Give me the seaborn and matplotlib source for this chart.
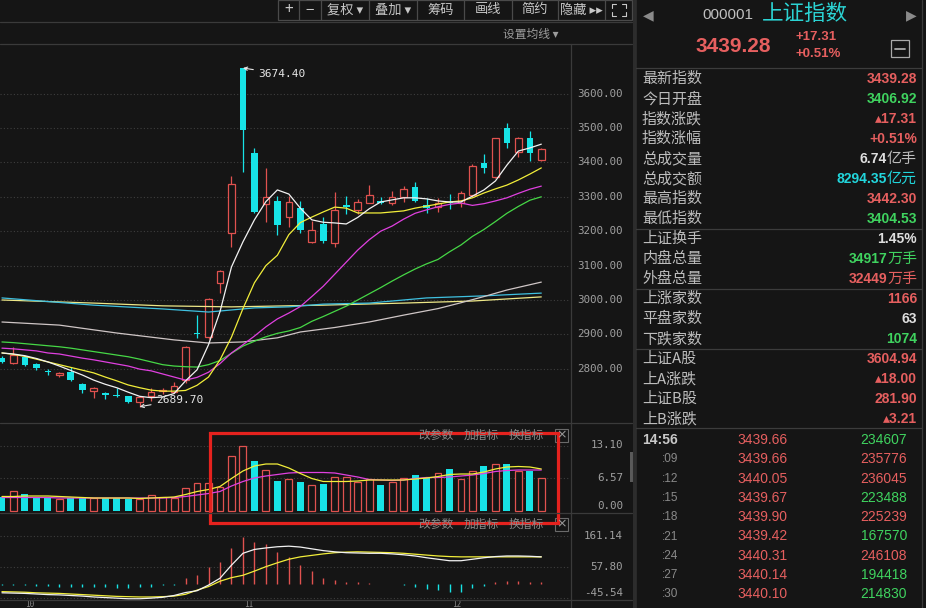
import numpy as np
import matplotlib
matplotlib.use('Agg')
import matplotlib.pyplot as plt
import seaborn as sns
from matplotlib.lines import Line2D
from matplotlib.patches import Rectangle

W, H = 926, 608
BG = '#151515'
RED = '#e0524f'
CYAN = '#17e3e6'
GRID = '#3e3e3e'
SEP = '#3a3a3a'
TXT_RED = '#e65f5f'
TXT_GREEN = '#3fd35f'
TXT_CYAN = '#22d6dc'
TXT_WHITE = '#dedede'
TXT_GREY = '#bdbdbd'

# ---------------- chart data (daily k-line, 48 sessions) ----------------
opens = [2831, 2817, 2834, 2814, 2793, 2782, 2791, 2756, 2735, 2730,
         2724, 2721, 2703, 2722, 2735, 2733, 2767, 2905, 2892, 3049,
         3195, 3674.4, 3427, 3279, 3288, 3241, 3267, 3169, 3221, 3166,
         3276, 3262, 3282, 3288, 3282, 3299, 3328, 3276, 3270, 3285,
         3282, 3305, 3398, 3358, 3500, 3430, 3471, 3406.92]
highs = [2836, 2863, 2836, 2817, 2800, 2791, 2805, 2760, 2747, 2733,
         2744, 2722, 2721, 2744, 2745, 2762, 2866, 2955, 3006, 3087,
         3360, 3674.4, 3442, 3384, 3302, 3302, 3288, 3230, 3241, 3314,
         3302, 3294, 3334, 3299, 3318, 3331, 3343, 3297, 3297, 3308,
         3317, 3395, 3424, 3471, 3515, 3474, 3491, 3442.30]
lows = [2816, 2814, 2808, 2797, 2782, 2776, 2764, 2730, 2715, 2712,
        2718, 2701, 2689.7, 2706, 2726, 2730, 2758, 2890, 2888, 3020,
        3154, 3372, 3253, 3227, 3189, 3212, 3195, 3166, 3166, 3154,
        3250, 3250, 3282, 3279, 3276, 3285, 3285, 3253, 3256, 3265,
        3270, 3300, 3369, 3355, 3442, 3416, 3405, 3404.53]
closes = [2820, 2840, 2811, 2802, 2791, 2788, 2767, 2738, 2744, 2724,
          2720, 2703, 2718, 2733, 2738, 2750, 2863, 2902, 3003, 3084,
          3337, 3494, 3256, 3299, 3218, 3285, 3203, 3203, 3171, 3262,
          3271, 3285, 3305, 3282, 3299, 3323, 3288, 3267, 3282, 3282,
          3311, 3390, 3384, 3471, 3456, 3471, 3427, 3439.28]

ma5 = [2846, 2843, 2838, 2830, 2820, 2808, 2795, 2782, 2767, 2755,
       2745, 2732, 2720, 2716, 2718, 2728, 2765, 2797, 2870, 2966,
       3096, 3169, 3233, 3286, 3320, 3308, 3267, 3233, 3226, 3224,
       3221, 3240, 3265, 3285, 3291, 3297, 3297, 3294, 3288, 3285,
       3285, 3302, 3320, 3346, 3392, 3433, 3442, 3453]
ma10 = [2846, 2842, 2836, 2828, 2820, 2812, 2804, 2796, 2788, 2776,
        2765, 2753, 2745, 2738, 2735, 2735, 2737, 2752, 2776, 2826,
        2892, 2975, 3050, 3100, 3130, 3190, 3225, 3241, 3256, 3270,
        3267, 3253, 3253, 3253, 3256, 3259, 3267, 3273, 3279, 3285,
        3288, 3297, 3311, 3323, 3334, 3349, 3366, 3384]
ma20 = [2860, 2858, 2855, 2852, 2846, 2843, 2837, 2831, 2826, 2820,
        2814, 2808, 2799, 2794, 2785, 2776, 2767, 2775, 2790, 2815,
        2846, 2870, 2895, 2922, 2945, 2962, 2981, 3010, 3040, 3075,
        3110, 3145, 3175, 3200, 3215, 3235, 3252, 3262, 3271, 3278,
        3282, 3275, 3280, 3288, 3297, 3310, 3322, 3331]
ma30 = [2878, 2876, 2873, 2870, 2867, 2864, 2860, 2855, 2850, 2845,
        2840, 2835, 2828, 2820, 2812, 2808, 2806, 2805, 2812, 2824,
        2845, 2866, 2880, 2893, 2903, 2910, 2920, 2938, 2952, 2967,
        2982, 3000, 3018, 3036, 3055, 3073, 3090, 3105, 3118, 3140,
        3160, 3185, 3205, 3228, 3252, 3272, 3290, 3300]
# slow averages, read at a few sessions
ma60_idx = [0, 5, 10, 15, 18, 21, 24, 26, 29, 32, 35, 38, 40, 42, 44, 47]
ma60 = [2936, 2927, 2904, 2884, 2875, 2878, 2890, 2907, 2920, 2936, 2956, 2975, 2992, 3010, 3029, 3052]
ma120_idx = [0, 8, 14, 18, 22, 25, 28, 32, 37, 42, 47]
ma120 = [3006, 2985, 2974, 2965, 2977, 2980, 2988, 2991, 3006, 3012, 3020]
ma250_idx = [0, 8, 14, 20, 28, 35, 41, 47]
ma250 = [3000, 2991, 2983, 2980, 2985, 2991, 2997, 3009]

volume = [2.8, 4.0, 3.4, 2.6, 2.6, 2.4, 2.6, 2.6, 2.6, 2.6,
          2.6, 2.4, 2.4, 3.2, 2.8, 2.6, 4.7, 5.7, 5.7, 4.9,
          11.0, 13.0, 10.0, 8.3, 6.1, 6.4, 5.8, 5.2, 5.4, 6.9,
          6.8, 5.9, 6.5, 5.2, 5.9, 6.7, 7.2, 6.7, 7.7, 8.5,
          6.5, 8.1, 9.0, 9.5, 9.5, 8.1, 8.1, 6.7]
volume_up = [0, 1, 0, 0, 0, 1, 0, 0, 1, 0,
             0, 0, 1, 1, 1, 1, 1, 1, 1, 1,
             1, 1, 0, 1, 0, 1, 0, 1, 0, 1,
             1, 1, 1, 0, 1, 1, 0, 0, 1, 0,
             1, 1, 0, 1, 0, 1, 0, 1]
vol_ma5 = [2.9, 2.9, 3.0, 3.0, 3.0, 2.9, 2.8, 2.7, 2.6, 2.6,
           2.6, 2.6, 2.5, 2.6, 2.7, 2.8, 3.3, 3.9, 4.3, 4.9,
           6.5, 8.0, 9.0, 9.4, 9.4, 8.6, 7.5, 6.5, 5.9, 5.9,
           5.9, 6.0, 6.2, 6.2, 6.2, 6.2, 6.4, 6.6, 6.9, 7.3,
           7.4, 7.4, 7.8, 8.4, 8.8, 8.9, 8.8, 8.4]
vol_ma10 = [2.7, 2.7, 2.7, 2.7, 2.7, 2.6, 2.6, 2.6, 2.6, 2.6,
            2.6, 2.6, 2.6, 2.6, 2.6, 2.7, 2.9, 3.2, 3.5, 3.9,
            5.0, 5.9, 6.6, 7.0, 7.3, 7.6, 7.7, 7.7, 7.7, 7.6,
            7.2, 6.8, 6.3, 6.2, 6.1, 6.2, 6.5, 6.7, 6.7, 6.8,
            7.0, 7.2, 7.5, 7.9, 8.1, 8.2, 8.2, 8.2]

macd_hist = [-3, -3, -4, -5, -6, -8, -9, -10, -11, -11,
             -12, -12, -11, -9, -4, -2, 20, 31, 59, 76,
             123, 158, 143, 135, 109, 93, 65, 45, 20, 14,
             8, 6, 3, 1, -1, -3, -8, -15, -20, -26,
             -27, -14, -6, 6, 10, 12, 9, 7]
dif = [-29, -30, -31, -33, -35, -36, -38, -40, -43, -45,
       -47, -49, -49, -47, -44, -38, -28, -22, -3, 20,
       64, 104, 117, 122, 126, 128, 125, 119, 113, 109,
       106, 105, 104, 104, 102, 99, 95, 89, 84, 79,
       79, 84, 89, 93, 95, 95, 94, 92]
dea = [-25, -26, -27, -29, -30, -31, -33, -35, -37, -39,
       -41, -42, -43, -43, -42, -40, -34, -20, -8, 10,
       22, 30, 44, 59, 72, 84, 92, 97, 102, 106,
       108, 109, 108, 107, 106, 104, 101, 98, 95, 93,
       92, 92, 92, 92, 92, 92, 92, 92]

price_ticks = [3600, 3500, 3400, 3300, 3200, 3100, 3000, 2900, 2800]
vol_ticks = [13.10, 6.57, 0.00]
macd_ticks = [161.14, 57.80, -45.54]
date_labels = ['10', '11', '12']
date_label_idx = [2.4, 21.5, 39.6]

# ---------------- side panel data ----------------
quote_labels = ['最新指数', '今日开盘', '指数涨跌', '指数涨幅', '总成交量', '总成交额', '最高指数', '最低指数',
                '上证换手', '内盘总量', '外盘总量',
                '上涨家数', '平盘家数', '下跌家数',
                '上证A股', '上A涨跌', '上证B股', '上B涨跌']
quote_values = ['3439.28', '3406.92', '▴17.31', '+0.51%', '6.74', '8294.35', '3442.30', '3404.53',
                '1.45%', '34917', '32449',
                '1166', '63', '1074',
                '3604.94', '▴18.00', '281.90', '▴3.21']
quote_units = ['', '', '', '', '亿手', '亿元', '', '',
               '', '万手', '万手',
               '', '', '',
               '', '', '', '']
quote_colors = [TXT_RED, TXT_GREEN, TXT_RED, TXT_RED, TXT_WHITE, TXT_CYAN, TXT_RED, TXT_GREEN,
                TXT_WHITE, TXT_GREEN, TXT_RED,
                TXT_RED, TXT_WHITE, TXT_GREEN,
                TXT_RED, TXT_RED, TXT_RED, TXT_RED]
unit_colors = ['', '', '', '', TXT_GREY, TXT_CYAN, '', '', '', TXT_GREEN, TXT_RED, '', '', '', '', '', '', '']

tick_times = ['14:56', ':09', ':12', ':15', ':18', ':21', ':24', ':27', ':30']
tick_prices = ['3439.66', '3439.66', '3440.05', '3439.67', '3439.90', '3439.42', '3440.31', '3440.14', '3440.10']
tick_vols = ['234607', '235776', '236045', '223488', '225239', '167570', '246108', '194418', '214830']
tick_vol_up = [0, 1, 1, 0, 1, 0, 1, 0, 0]

toolbar_labels = ['+', '−', '复权 ▾', '叠加 ▾', '筹码', '画线', '简约', '隐藏 ▸▸']

# ---------------- style ----------------
sns.set_theme(style='dark', rc={'axes.facecolor': BG, 'figure.facecolor': BG,
                                'savefig.facecolor': BG, 'axes.edgecolor': BG})
CJK = ['Noto Sans CJK SC', 'DejaVu Sans']
NUM = ['Liberation Sans', 'DejaVu Sans']
MONO = ['DejaVu Sans Mono']
plt.rcParams['font.family'] = CJK
plt.rcParams['axes.unicode_minus'] = False

fig = plt.figure(figsize=(W / 100, H / 100), dpi=100)


def box(x0, y0, x1, y1):
    return [x0 / W, 1 - y1 / H, (x1 - x0) / W, (y1 - y0) / H]


def fline(xs, ys, color=SEP, lw=0.9):
    fig.add_artist(Line2D([v / W for v in xs], [1 - v / H for v in ys], color=color, lw=lw))


def frect(x0, y0, x1, y1, **kw):
    fig.add_artist(Rectangle((x0 / W, 1 - y1 / H), (x1 - x0) / W, (y1 - y0) / H, **kw))


def ftext(x, y, s, **kw):
    kw.setdefault('va', 'center')
    fig.text(x / W, 1 - y / H, s, **kw)


ax_k = fig.add_axes(box(0, 44, 570, 422))
ax_v = fig.add_axes(box(0, 424, 570, 513))
ax_m = fig.add_axes(box(0, 515, 570, 600))
for ax in (ax_k, ax_v, ax_m):
    ax.set_facecolor(BG)
    for s in ax.spines.values():
        s.set_visible(False)
    ax.grid(False)

# ---------------- candles ----------------
x = np.arange(len(closes))
o, hi, lo, c = map(np.array, (opens, highs, lows, closes))
up = c >= o
top = np.maximum(o, c)
bot = np.minimum(o, c)
body = np.maximum(top - bot, 1.5)

for v in price_ticks:
    ax_k.axhline(v, color=GRID, lw=0.8, ls=(0, (1, 2)), zorder=1)
ax_k.vlines(x[up], top[up], hi[up], color=RED, lw=0.9, zorder=2)
ax_k.vlines(x[up], lo[up], bot[up], color=RED, lw=0.9, zorder=2)
ax_k.vlines(x[~up], lo[~up], hi[~up], color=CYAN, lw=0.9, zorder=2)
ax_k.bar(x[up], body[up], bottom=bot[up], width=0.58, facecolor=BG, edgecolor=RED, lw=0.9, zorder=2.5)
ax_k.bar(x[~up], body[~up], bottom=bot[~up], width=0.58, color=CYAN, lw=0, zorder=2.5)

ma_lines = [
    (ma250_idx, ma250, '#eee888'),
    (ma120_idx, ma120, '#3fc0e0'),
    (ma60_idx, ma60, '#cfc6c6'),
    (list(x), ma30, '#46d846'),
    (list(x), ma20, '#e040e0'),
    (list(x), ma10, '#f2ee3a'),
    (list(x), ma5, '#f2f2f2'),
]
for xs, ys, col in ma_lines:
    sns.lineplot(x=xs, y=ys, ax=ax_k, color=col, lw=0.9, zorder=3, legend=False)

imax = int(np.argmax(hi))
imin = int(np.argmin(lo))
ax_k.annotate(f'{hi[imax]:.2f}', xy=(imax, hi[imax]), xytext=(15, -6), textcoords='offset pixels',
              color='#e6e6e6', fontsize=8, family=MONO, ha='left', va='center',
              arrowprops=dict(arrowstyle='->', color='#e6e6e6', lw=0.8, shrinkA=1, shrinkB=0,
                              mutation_scale=6))
ax_k.annotate(f'{lo[imin]:.2f}', xy=(imin, lo[imin]), xytext=(16, 7), textcoords='offset pixels',
              color='#e6e6e6', fontsize=8, family=MONO, ha='left', va='center',
              arrowprops=dict(arrowstyle='->', color='#e6e6e6', lw=0.8, shrinkA=1, shrinkB=0,
                              mutation_scale=6))
for v in price_ticks:
    ax_k.text(623 / 570, v, f'{v:.2f}', transform=ax_k.get_yaxis_transform(), ha='right', va='center',
              color='#a0a0a0', fontsize=7.8, family=MONO, clip_on=False)

# ---------------- volume ----------------
vol = np.array(volume)
vup = np.array(volume_up, dtype=bool)
for v in vol_ticks[:2]:
    ax_v.axhline(v, color=GRID, lw=0.8, ls=(0, (1, 2)), zorder=1)
ax_v.bar(x[vup], vol[vup], width=0.6, facecolor=BG, edgecolor=RED, lw=0.9, zorder=2)
ax_v.bar(x[~vup], vol[~vup], width=0.6, color=CYAN, lw=0, zorder=2)
sns.lineplot(x=x, y=vol_ma10, ax=ax_v, color='#e040e0', lw=0.9, zorder=3, legend=False)
sns.lineplot(x=x, y=vol_ma5, ax=ax_v, color='#f2ee3a', lw=0.9, zorder=3, legend=False)
for v in vol_ticks:
    ax_v.text(623 / 570, v, f'{v:.2f}', transform=ax_v.get_yaxis_transform(), ha='right',
              va='bottom' if v == 0 else 'center', color='#a0a0a0', fontsize=7.8, family=MONO,
              clip_on=False)

# ---------------- macd ----------------
hist = np.array(macd_hist)
for v in macd_ticks:
    ax_m.axhline(v, color=GRID, lw=0.8, ls=(0, (1, 2)), zorder=1)
ax_m.vlines(x[hist > 0], 0, hist[hist > 0], color=RED, lw=1.0, zorder=2)
ax_m.vlines(x[hist <= 0], 0, hist[hist <= 0], color=CYAN, lw=1.0, zorder=2)
sns.lineplot(x=x, y=dea, ax=ax_m, color='#f2ee3a', lw=0.9, zorder=3, legend=False)
sns.lineplot(x=x, y=dif, ax=ax_m, color='#f2f2f2', lw=0.9, zorder=3, legend=False)
for v in macd_ticks:
    ax_m.text(623 / 570, v, f'{v:.2f}', transform=ax_m.get_yaxis_transform(), ha='right',
              va='bottom' if v < 0 else 'center', color='#a0a0a0', fontsize=7.8, family=MONO,
              clip_on=False)

for ax in (ax_k, ax_v, ax_m):
    ax.set_xlim(-0.17, 49.5)
    ax.set_xticks([])
    ax.set_yticks([])
    ax.set_xlabel('')
    ax.set_ylabel('')
ax_k.set_ylim(2645.3, 3744.2)
ax_v.set_ylim(-0.4, 17.4)
ax_m.set_ylim(-53.2, 232.9)

# date labels under the macd pane (mostly hidden in the original, kept small here)
for xi, lab in zip(date_label_idx, date_labels):
    ax_m.annotate(lab, xy=(xi, 0), xycoords=('data', 'axes fraction'), xytext=(0, -4.5),
                  textcoords='offset pixels', ha='center', va='center', color='#8a8a8a',
                  fontsize=5.5, family=MONO, annotation_clip=False)

# ---------------- frame, toolbar, headers ----------------
for yy in (22, 44, 423, 513, 600):
    fline([0, 632], [yy, yy])
fline([571, 571], [44, 608])
fline([634, 634], [0, 608], color='#2c2c2c', lw=2.2)
frect(630, 452, 636, 482, facecolor='#5a5a5a', edgecolor='none')

tb_edges = [278, 299, 321, 369, 417, 464, 512, 558, 605, 632]
frect(278, 0, 632, 20, fill=False, edgecolor='#4a4a4a', lw=0.9)
for e in tb_edges[1:-1]:
    fline([e, e], [0, 20], color='#4a4a4a')
for lab, a, b in zip(toolbar_labels, tb_edges[:-1], tb_edges[1:]):
    ftext((a + b) / 2, 10, lab, ha='center', color='#c8c8c8', fontsize=9.5 if len(lab) > 1 else 11)
# fullscreen icon corners
for cx, cy, dx, dy in [(612, 4, 1, 1), (626, 4, -1, 1), (612, 16, 1, -1), (626, 16, -1, -1)]:
    fline([cx, cx + 4 * dx], [cy, cy], color='#c8c8c8', lw=0.8)
    fline([cx, cx], [cy, cy + 4 * dy], color='#c8c8c8', lw=0.8)

ftext(503, 34, '设置均线 ▾', ha='left', color='#9c9c9c', fontsize=8.5)

for yc in (435, 524):
    ftext(418, yc, '改参数', ha='left', color='#8a8a8a', fontsize=8.5)
    ftext(464, yc, '加指标', ha='left', color='#8a8a8a', fontsize=8.5)
    ftext(509, yc, '换指标', ha='left', color='#8a8a8a', fontsize=8.5)
    frect(555, yc - 6.5, 568, yc + 6.5, fill=False, edgecolor='#6a6a6a', lw=0.8)
    ftext(561.5, yc, '×', ha='center', color='#9a9a9a', fontsize=9, family=['DejaVu Sans'])

frect(210, 433, 558, 523, fill=False, edgecolor='#e5221e', lw=2.3)

# ---------------- right quote panel ----------------
fline([636, 636], [0, 608], color='#2e2e2e', lw=1.2)
fline([922, 922], [0, 608], color='#3a3a3a', lw=0.9)
for yy in (68, 229, 289, 349, 428):
    fline([636, 922], [yy, yy], color='#3c3c3c')

ftext(648, 15, '◀', ha='center', color='#8a8a8a', fontsize=10, family=['DejaVu Sans'])
ftext(911, 15, '▶', ha='center', color='#8a8a8a', fontsize=10, family=['DejaVu Sans'])
ftext(702, 15, '000001', ha='left', color='#c0c0c0', fontsize=11, family=NUM)
ftext(762, 14, '上证指数', ha='left', color='#2bd3d3', fontsize=15.5)
ftext(695, 46, '3439.28', ha='left', color=TXT_RED, fontsize=15, family=NUM, weight='bold')
ftext(796, 37, '+17.31', ha='left', color=TXT_RED, fontsize=9.5, family=NUM, weight='bold')
ftext(796, 54, '+0.51%', ha='left', color=TXT_RED, fontsize=9.5, family=NUM, weight='bold')
frect(891, 40, 909, 57, fill=False, edgecolor='#aaaaaa', lw=0.9)
fline([895, 905], [48.5, 48.5], color='#aaaaaa', lw=1.3)

for k, (lab, val, unit, col, ucol) in enumerate(zip(quote_labels, quote_values, quote_units,
                                                     quote_colors, unit_colors)):
    yy = 79 + 20 * k
    ftext(642, yy, lab, ha='left', color=TXT_GREY, fontsize=10.8)
    xr = 917
    if unit:
        ftext(xr, yy, unit, ha='right', color=ucol, fontsize=10.8)
        xr -= 30
    ftext(xr, yy, val, ha='right', color=col, fontsize=10, family=NUM, weight='bold')

for k, (t, p, v, u) in enumerate(zip(tick_times, tick_prices, tick_vols, tick_vol_up)):
    yy = 440 + 19.3 * k
    ftext(678, yy, t, ha='right', color='#c8c8c8' if k == 0 else '#8a8a8a',
          fontsize=10 if k == 0 else 8.5, family=NUM, weight='bold' if k == 0 else 'normal')
    ftext(737, yy, p, ha='left', color=TXT_RED, fontsize=10, family=NUM)
    ftext(907, yy, v, ha='right', color=TXT_RED if u else TXT_GREEN, fontsize=10, family=NUM)

fig.savefig('out.png', dpi=100, facecolor=BG)
